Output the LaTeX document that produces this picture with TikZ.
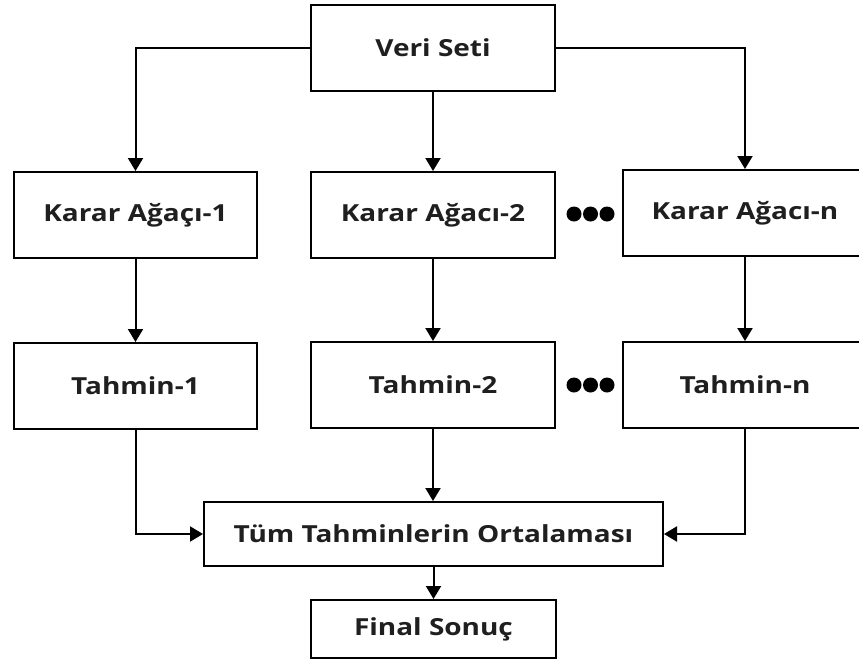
\documentclass[tikz,border=0pt]{standalone}
\usepackage{fontspec}
\setmainfont{Open Sans}
\usetikzlibrary{arrows.meta}
% box labels are set slightly wide
\newcommand{\widelabel}[1]{\scalebox{1.19}[1]{#1}}
\begin{document}
\begin{tikzpicture}[x=1pt,y=-1pt,
  box/.style={draw=black,line width=2pt,fill=white,inner sep=0pt,
    minimum width=244pt,minimum height=86pt,
    font=\fontsize{23.5}{28}\selectfont\bfseries,text=black!88},
  arr/.style={line width=2pt,-{Triangle[width=15pt,length=13pt]}},
  dot/.style={fill=black,circle,inner sep=0pt,minimum size=15pt}]
\useasboundingbox (0,0) rectangle (859,659);
\clip (0,0) rectangle (859,659);
\fill[white] (0,0) rectangle (859,659);

% top source
\node[box] (veri) at (433,48) {\widelabel{Veri Seti}};

% tree row
\node[box,minimum width=243pt] (k1) at (135.5,215) {\widelabel{Karar Ağaçı-1}};
\node[box] (k2) at (433,215) {\widelabel{Karar Ağacı-2}};
\node[box] (kn) at (745,213) {\widelabel{Karar Ağacı-n}};

% prediction row
\node[box,minimum width=243pt] (t1) at (135.5,386) {\widelabel{Tahmin-1}};
\node[box] (t2) at (433,385) {\widelabel{Tahmin-2}};
\node[box] (tn) at (745,385) {\widelabel{Tahmin-n}};

% aggregation and result
\node[box,minimum width=459pt,minimum height=64pt] (avg) at (433.5,534) {\widelabel{Tüm Tahminlerin Ortalaması}};
\node[box,minimum width=245pt,minimum height=58pt] (fin) at (433.5,629) {\widelabel{Final Sonuç}};

% ellipsis dots between the columns
\foreach \y/\r in {214/a,385/b}{
  \node[dot] (d1\r) at (574,\y) {};
  \node[dot] (d2\r) at (590.5,\y) {};
  \node[dot] (d3\r) at (607,\y) {};
}

% connectors
\draw[arr] (veri.west) -| (k1.north);
\draw[arr] (veri.south) -- (k2.north);
\draw[arr] (veri.east) -| (kn.north);
\draw[arr] (k1) -- (t1);
\draw[arr] (k2) -- (t2);
\draw[arr] (kn) -- (tn);
\draw[arr] (t1.south) |- (avg.west);
\draw[arr] (t2.south) -- (t2.south |- avg.north);
\draw[arr] (tn.south) |- (avg.east);
\draw[arr] (avg.south) -- (fin.north);
\end{tikzpicture}
\end{document}
